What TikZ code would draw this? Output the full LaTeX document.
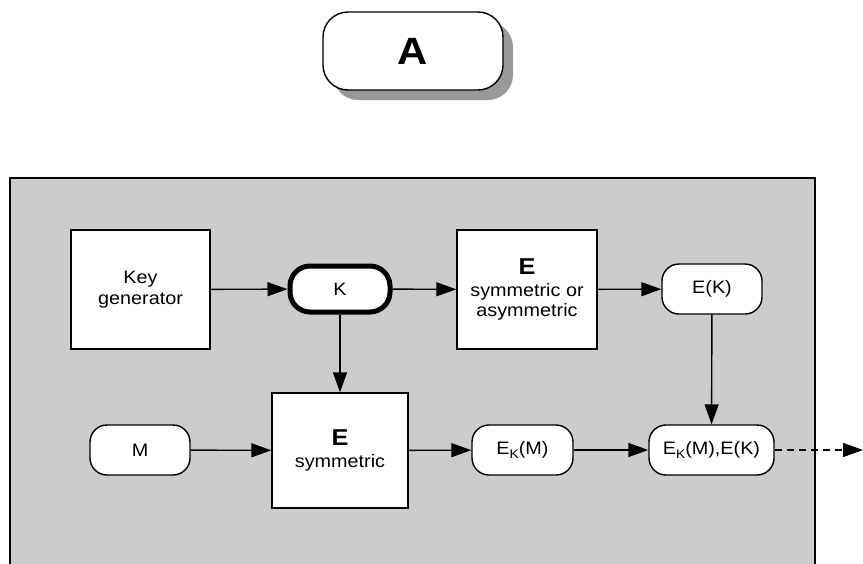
\documentclass[tikz,border=0pt]{standalone}
\usepackage{fontspec}
\setmainfont[FakeStretch=1.1]{Liberation Sans}
\usetikzlibrary{arrows.meta,shadows}
\definecolor{panelgray}{HTML}{CCCCCC}
\definecolor{shadowgray}{HTML}{999999}
\newcommand{\sub}[1]{\raisebox{-0.45ex}{\fontsize{12.5}{12.5}\selectfont #1}}
\tikzset{
  box/.style={draw, line width=1.4pt, fill=white, minimum width=#1, align=center, inner sep=0pt,
    font=\fontsize{18}{20.5}\selectfont},
  pill/.style={draw, line width=1.4pt, fill=white, rounded corners=17pt, minimum height=50pt,
    inner sep=0pt, font=\fontsize{18}{20.5}\selectfont},
  keypill/.style={pill, line width=5pt, rounded corners=20pt, minimum height=46pt},
  conn/.style={line width=1.4pt, -{Triangle[length=20pt,width=14pt]}},
  bigE/.style={font=\fontsize{23}{23}\selectfont\bfseries}
}
\begin{document}
\begin{tikzpicture}[x=1pt,y=-1pt]
  \useasboundingbox (0,0) rectangle (863,563);
  % title pill with drop shadow
  \node[draw, line width=1.4pt, fill=white, rounded corners=25pt, minimum width=180pt, minimum height=78pt,
        drop shadow={shadow xshift=10pt, shadow yshift=-10pt, fill=shadowgray, opacity=1},
        font=\fontsize{38}{38}\selectfont\bfseries] (title) at (413,51) {A};
  % grey panel, running past the lower edge
  \path[fill=panelgray, draw=black, line width=1.6pt] (10,178) rectangle (815,580);
  % upper row
  \node[box=139pt, minimum height=119pt] (keygen) at (140.5,289.5) {Key\\generator};
  \node[keypill, minimum width=100pt] (K) at (340,289) {K};
  \node[box=140pt, minimum height=119pt] (easym) at (527,289.5)
       {{\fontsize{23}{23}\selectfont\bfseries E}\\[1pt]symmetric or\\asymmetric};
  \node[pill, minimum width=100pt] (EK) at (712,289) {E(K)};
  % lower row
  \node[pill, minimum width=100pt] (M) at (140,450) {M};
  \node[box=136pt, minimum height=115pt] (esym) at (340,450.5)
       {{\fontsize{23}{23}\selectfont\bfseries E}\\[1pt]symmetric};
  \node[pill, minimum width=101pt] (EKM) at (522.5,450) {E\sub{K}(M)};
  \node[pill, minimum width=125pt] (out) at (711.5,450) {E\sub{K}(M),E(K)};
  \coordinate (exit) at (863,450);
  % connectors
  \draw[conn] (keygen) -- (K);
  \draw[conn] (K) -- (easym);
  \draw[conn] (easym) -- (EK);
  \draw[conn] (K) -- (esym);
  \draw[conn] (EK) -- (out);
  \draw[conn] (M) -- (esym);
  \draw[conn] (esym) -- (EKM);
  \draw[conn] (EKM) -- (out);
  \draw[conn, dash pattern=on 7pt off 5pt] (out) -- (exit);
\end{tikzpicture}
\end{document}
